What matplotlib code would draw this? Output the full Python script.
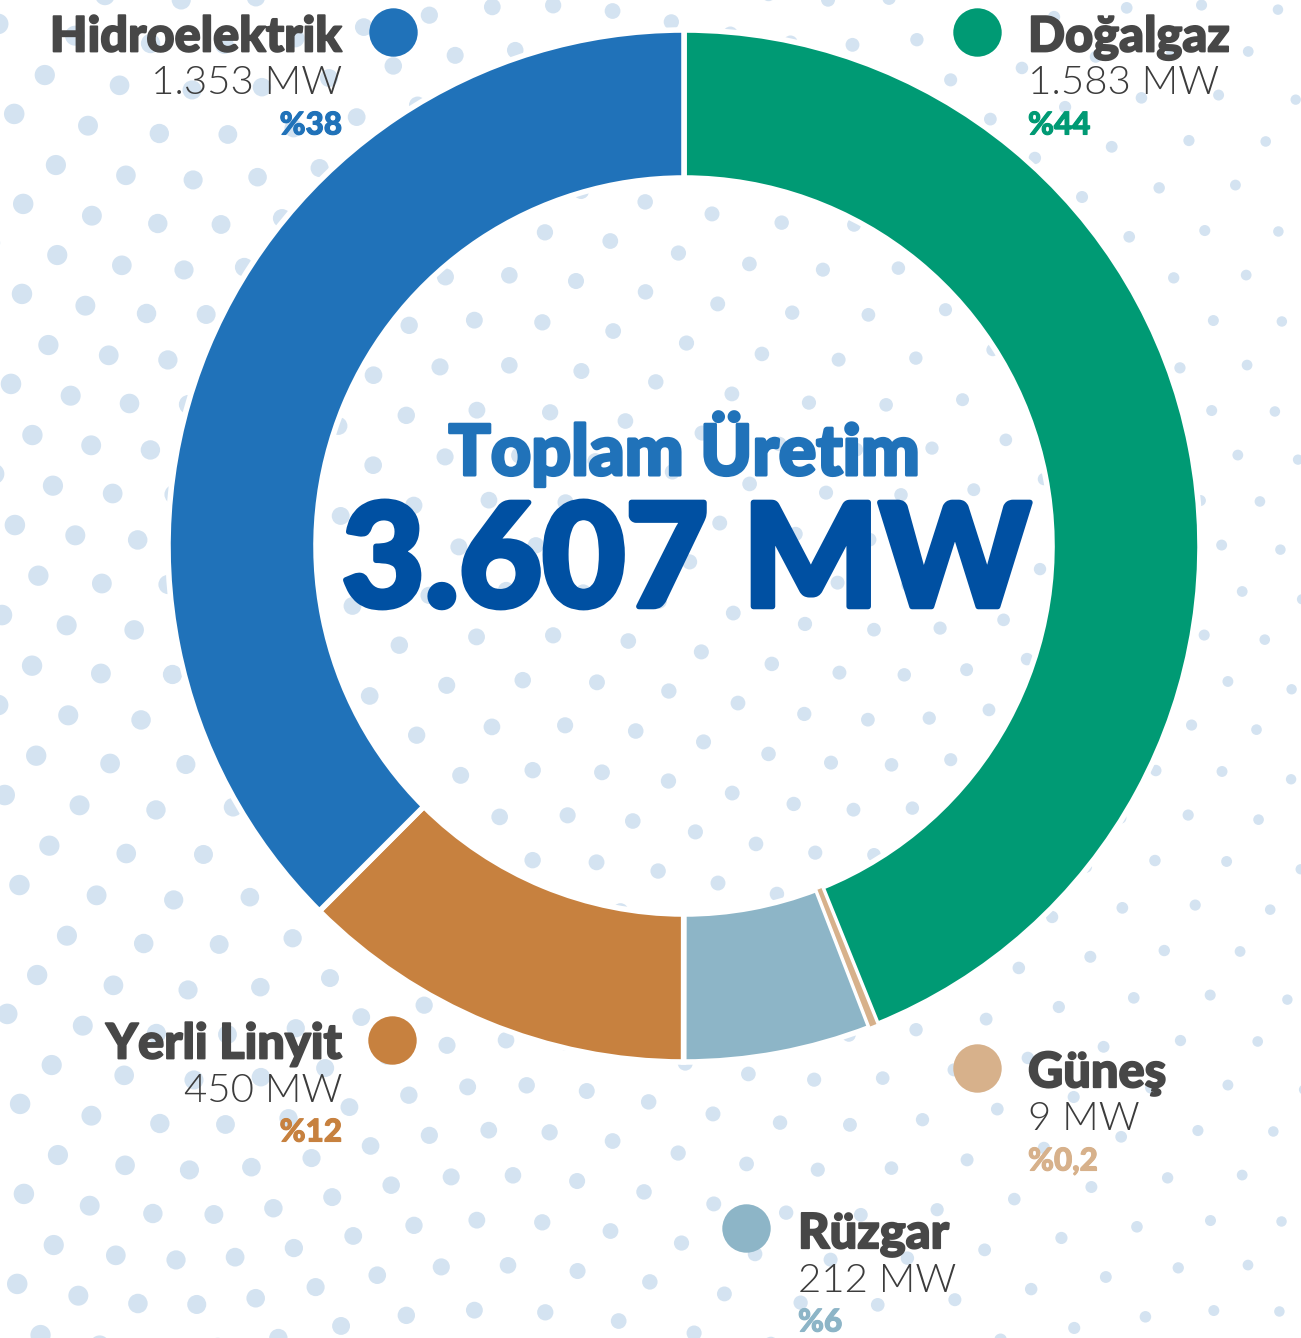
import numpy as np
import matplotlib.pyplot as plt
from matplotlib import font_manager as fm
from matplotlib import patheffects as pe

# Data
sources = ["Doğalgaz", "Güneş", "Rüzgar", "Yerli Linyit", "Hidroelektrik"]
mw_values = [1583, 9, 212, 450, 1353]
mw_labels = ["1.583 MW", "9 MW", "212 MW", "450 MW", "1.353 MW"]
pct_labels = ["%44", "%0,2", "%6", "%12", "%38"]
colors = ["#009A74", "#D7B18B", "#8DB5C7", "#C7813F", "#2072B9"]
total_label = "3.607 MW"
title_label = "Toplam Üretim"


def pick_font(families, weight):
    # closest installed face to the wanted weight, first family that exists
    for fam in families:
        faces = [f for f in fm.fontManager.ttflist
                 if f.name == fam and f.style == "normal"]
        if faces:
            def w(f):
                return f.weight if isinstance(f.weight, int) else fm.weight_dict.get(f.weight, 400)
            best = min(faces, key=lambda f: abs(w(f) - weight))
            return best.fname, w(best)
    return None, None


heavy_fname, _ = pick_font(["Lato", "DejaVu Sans"], 900)
light_fname, _ = pick_font(["Lato", "Roboto", "DejaVu Sans"], 300)

HEAVY = fm.FontProperties(fname=heavy_fname)
LIGHT = fm.FontProperties(fname=light_fname)

W, H = 1301, 1338
fig = plt.figure(figsize=(W / 100, H / 100), dpi=100)
ax = fig.add_axes([0, 0, 1, 1])
ax.set_xlim(0, W)
ax.set_ylim(0, H)
ax.set_aspect("equal")
ax.axis("off")
renderer = fig.canvas.get_renderer()


def fit_size(text, fp, width):
    t = ax.text(0, 0, text, fontproperties=fp, fontsize=20)
    wpx = t.get_window_extent(renderer).width
    t.remove()
    return 20 * width / wpx


def thick(col, lw):
    return [pe.withStroke(linewidth=lw, foreground=col)]


# decorative dot background (warped grid, bigger dots on the left)
gx, gy = np.meshgrid(np.arange(-40, W + 60, 68), np.arange(-20, H + 40, 45))
gx = gx + (np.arange(gx.shape[0])[:, None] % 2) * 34
wx = gx + 30 * np.sin(gy / 150.0 + gx / 220.0)
wy = gy + 20 * np.sin(gx / 110.0)
sizes = (20 - 10 * np.clip(wx / W, 0, 1)) ** 2 * 0.55
ax.scatter(wx.ravel(), H - wy.ravel(), s=sizes.ravel(), color="#D4E3F1",
           linewidths=0, zorder=0)

# donut
cx, cy, r_out, ring = 684, H - 546, 516, 148
wedges = ax.pie(mw_values, colors=colors, startangle=90, counterclock=False,
                radius=r_out, center=(cx, cy),
                wedgeprops=dict(width=ring, edgecolor="white", linewidth=4))[0]
# keep the tiny solar slice visible above the neighbours' white edges
wedges[1].set_zorder(1.5)
wedges[1].set_linewidth(1.0)
ax.set_xlim(0, W)
ax.set_ylim(0, H)
ax.set_aspect("equal")
ax.axis("off")

# centre text
ax.text(cx, H - 443, title_label, ha="center", va="center_baseline",
        fontproperties=HEAVY, fontsize=fit_size(title_label, HEAVY, 472),
        color="#2072B9", zorder=5, path_effects=thick("#2072B9", 2.2))
ax.text(cx + 2, H - 553, total_label, ha="center", va="center_baseline",
        fontproperties=HEAVY, fontsize=fit_size(total_label, HEAVY, 688),
        color="#0050A2", zorder=5, path_effects=thick("#0050A2", 4))

# legend labels: (dot x, dot y, text x, text y, align)
label_pos = {
    "Doğalgaz": (977, 32, 1028, 33, "left"),
    "Güneş": (977, 1068, 1028, 1069, "left"),
    "Rüzgar": (746, 1228, 798, 1230, "left"),
    "Yerli Linyit": (392, 1040, 342, 1040, "right"),
    "Hidroelektrik": (393, 32, 342, 33, "right"),
}
name_w = [213, 138, 153, 225, 287]
mw_w = [185, 117, 152, 169, 182]
pct_w = [64, 75, 44, 56, 63]

name_fs = np.mean([fit_size(s, HEAVY, w) for s, w in zip(sources, name_w)])
mw_fs = np.mean([fit_size(s, LIGHT, w) for s, w in zip(mw_labels, mw_w)])
pct_fs = np.mean([fit_size(s, HEAVY, w) for s, w in zip(pct_labels, pct_w)])

for name, mw, pct, col in zip(sources, mw_labels, pct_labels, colors):
    dx, dy, tx, ty, ha = label_pos[name]
    ax.scatter([dx], [H - dy], s=47 ** 2 * 0.55, color=col,
               linewidths=0, zorder=6)
    ax.text(tx, H - ty, name, ha=ha, va="center_baseline", fontsize=name_fs,
            fontproperties=HEAVY, color="#474747", zorder=6,
            path_effects=thick("#474747", 1.3))
    ax.text(tx, H - ty - 47, mw, ha=ha, va="center_baseline", fontsize=mw_fs,
            fontproperties=LIGHT, color="#3C3C3C", zorder=6)
    ax.text(tx, H - ty - 90, pct, ha=ha, va="center_baseline", fontsize=pct_fs,
            fontproperties=HEAVY, color=col, zorder=6,
            path_effects=thick(col, 0.8))

fig.savefig("out.png", dpi=100)
